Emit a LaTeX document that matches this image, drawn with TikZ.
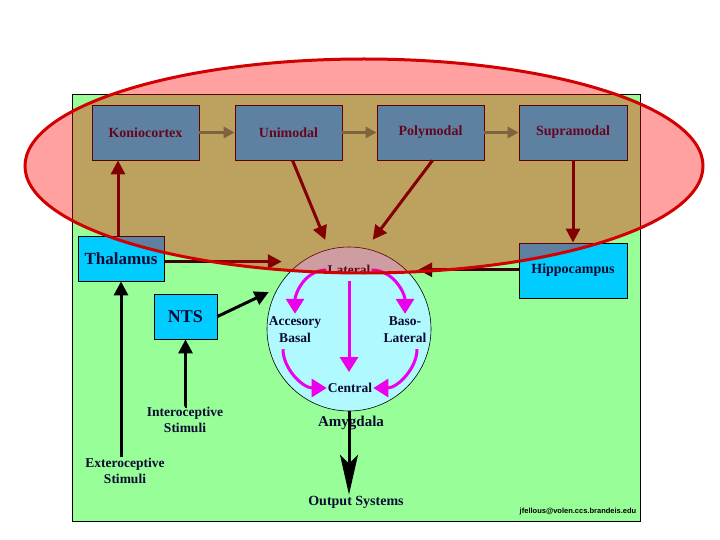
\documentclass[tikz,border=0pt]{standalone}
\usepackage{fontspec}
\setmainfont{Liberation Serif}
\newfontfamily\emailfont{Liberation Sans}
\usetikzlibrary{arrows.meta}
\definecolor{bggreen}{RGB}{152,255,152}
\definecolor{boxcyan}{RGB}{0,204,255}
\definecolor{lightcyan}{RGB}{176,250,255}
\definecolor{maroonarr}{RGB}{60,0,0}
\definecolor{olivearr}{RGB}{52,158,100}
\definecolor{magarr}{RGB}{235,0,235}
\definecolor{txtnavy}{RGB}{10,10,50}
\definecolor{ellred}{RGB}{210,0,0}
\newcommand{\fsz}[2]{\fontsize{#1}{#2}\selectfont}
\begin{document}
\begin{tikzpicture}[x=1pt,y=-1pt,
  cbox/.style={draw=black, line width=0.8pt, fill=boxcyan, inner sep=0pt, text=txtnavy, font=\fsz{14pt}{16pt}\bfseries},
  lbl/.style={inner sep=1pt, text=txtnavy, align=center},
  mar/.style={draw=maroonarr, line width=3pt, -{Triangle[length=14pt,width=14pt]}},
  blk/.style={draw=black, line width=3pt, -{Triangle[length=14pt,width=14pt]}},
  oliv/.style={draw=olivearr, line width=3pt, -{Triangle[length=11pt,width=11pt]}},
  mag/.style={draw=magarr, line width=3pt, -{Triangle[length=15pt,width=18pt]}},
  outarr/.style={draw=black, line width=3pt, -{Stealth[length=40pt,width=18pt,inset=9pt]}}
]
\useasboundingbox (0,0) rectangle (720,540);
\fill[white] (0,0) rectangle (720,540);
\draw[fill=bggreen, line width=0.8pt] (72,94) rectangle (640,521);

% boxes
\node[cbox, minimum width=107pt, minimum height=55pt] (konio) at (145.5,132.5) {Koniocortex};
\node[cbox, minimum width=107pt, minimum height=55pt] (uni) at (288.5,132.5) {Unimodal};
\node[cbox, minimum width=107pt, minimum height=55pt] (poly) at (430.5,132.5) {Polymodal};
\node[cbox, minimum width=108pt, minimum height=55pt] (supra) at (573,132.5) {Supramodal};
\node[cbox, minimum width=108pt, minimum height=55pt] (hippo) at (573,270.5) {Hippocampus};
\node[cbox, minimum width=86pt, minimum height=45pt, font=\fsz{17pt}{20pt}\bfseries] (thal) at (121,258.5) {Thalamus};
\node[cbox, minimum width=63pt, minimum height=45pt, font=\fsz{18pt}{20pt}\bfseries] (nts) at (185.5,316.5) {NTS};
\node[circle, draw=black, line width=0.6pt, fill=lightcyan, minimum size=164pt, inner sep=0pt] (amy) at (349,329) {};

% labels
\node[lbl, font=\fsz{13.5pt}{16pt}\bfseries] (lat) at (349,270) {Lateral};
\node[lbl, font=\fsz{13.5pt}{17pt}\bfseries] (acc) at (295,330) {Accesory\\Basal};
\node[lbl, font=\fsz{13.5pt}{17pt}\bfseries] (baso) at (405,330) {Baso-\\Lateral};
\node[lbl, font=\fsz{13.5pt}{16pt}\bfseries] (cen) at (350,388) {Central};
\node[lbl, font=\fsz{15pt}{17pt}\bfseries] (amyl) at (351,423) {Amygdala};
\node[lbl, font=\fsz{14pt}{16pt}\bfseries] (out) at (356,502) {Output Systems};
\node[lbl, font=\fsz{13.5pt}{16pt}\bfseries] (intero) at (185,420) {Interoceptive\\Stimuli};
\node[lbl, font=\fsz{13.5pt}{16pt}\bfseries] (extero) at (125,471) {Exteroceptive\\Stimuli};
\node[lbl, text=black, font=\emailfont\fsz{7.5pt}{9pt}\bfseries] (email) at (578,512) {jfellous@volen.ccs.brandeis.edu};

% connectors
\draw[oliv] (konio.east) -- (uni.west);
\draw[oliv] (uni.east) -- (poly.west);
\draw[oliv] (poly.east) -- (supra.west);
\draw[mar] ([xshift=-3pt]thal.north) -- ([xshift=-3pt]thal.north |- konio.south);
\draw[mar, shorten >=10pt] ([xshift=4pt]uni.south) -- (amy.104);
\draw[mar, shorten >=11pt] ([xshift=2pt]poly.south) -- (amy.78);
\draw[mar] (supra.south) -- (hippo.north);
\draw[mar, shorten >=20pt] (thal.east |- amy.125) -- (amy.125);
\draw[mar, shorten >=12pt] (hippo.west |- amy.46) -- (amy.46);
\draw[blk, shorten >=10pt] (nts.east) -- (amy.150);
\draw[blk] (intero.north) -- (intero.north -| nts.south) -- (nts.south);
\draw[blk] (thal.south |- extero.north) -- (thal.south);

% inside the amygdala
\draw[mag, shorten >=2pt] (lat.west) to[out=180,in=90] (acc.north);
\draw[mag, shorten >=2pt] (lat.east) to[out=0,in=90] (baso.north);
\draw[mag, shorten <=5pt, shorten >=10pt] (lat.south) -- (lat.south |- cen.north);
\draw[mag, shorten <=5pt] ([xshift=-12pt]acc.south) to[out=-90,in=180] (cen.west);
\draw[mag, shorten <=5pt] ([xshift=12pt]baso.south) to[out=-90,in=0] (cen.east);

\draw[outarr] (amy.south) -- (amy.south |- out.north);

% highlight ellipse
\draw[draw=ellred, line width=3pt, fill=red, fill opacity=0.37] (364,166) ellipse [x radius=339pt, y radius=107pt];
\end{tikzpicture}
\end{document}
